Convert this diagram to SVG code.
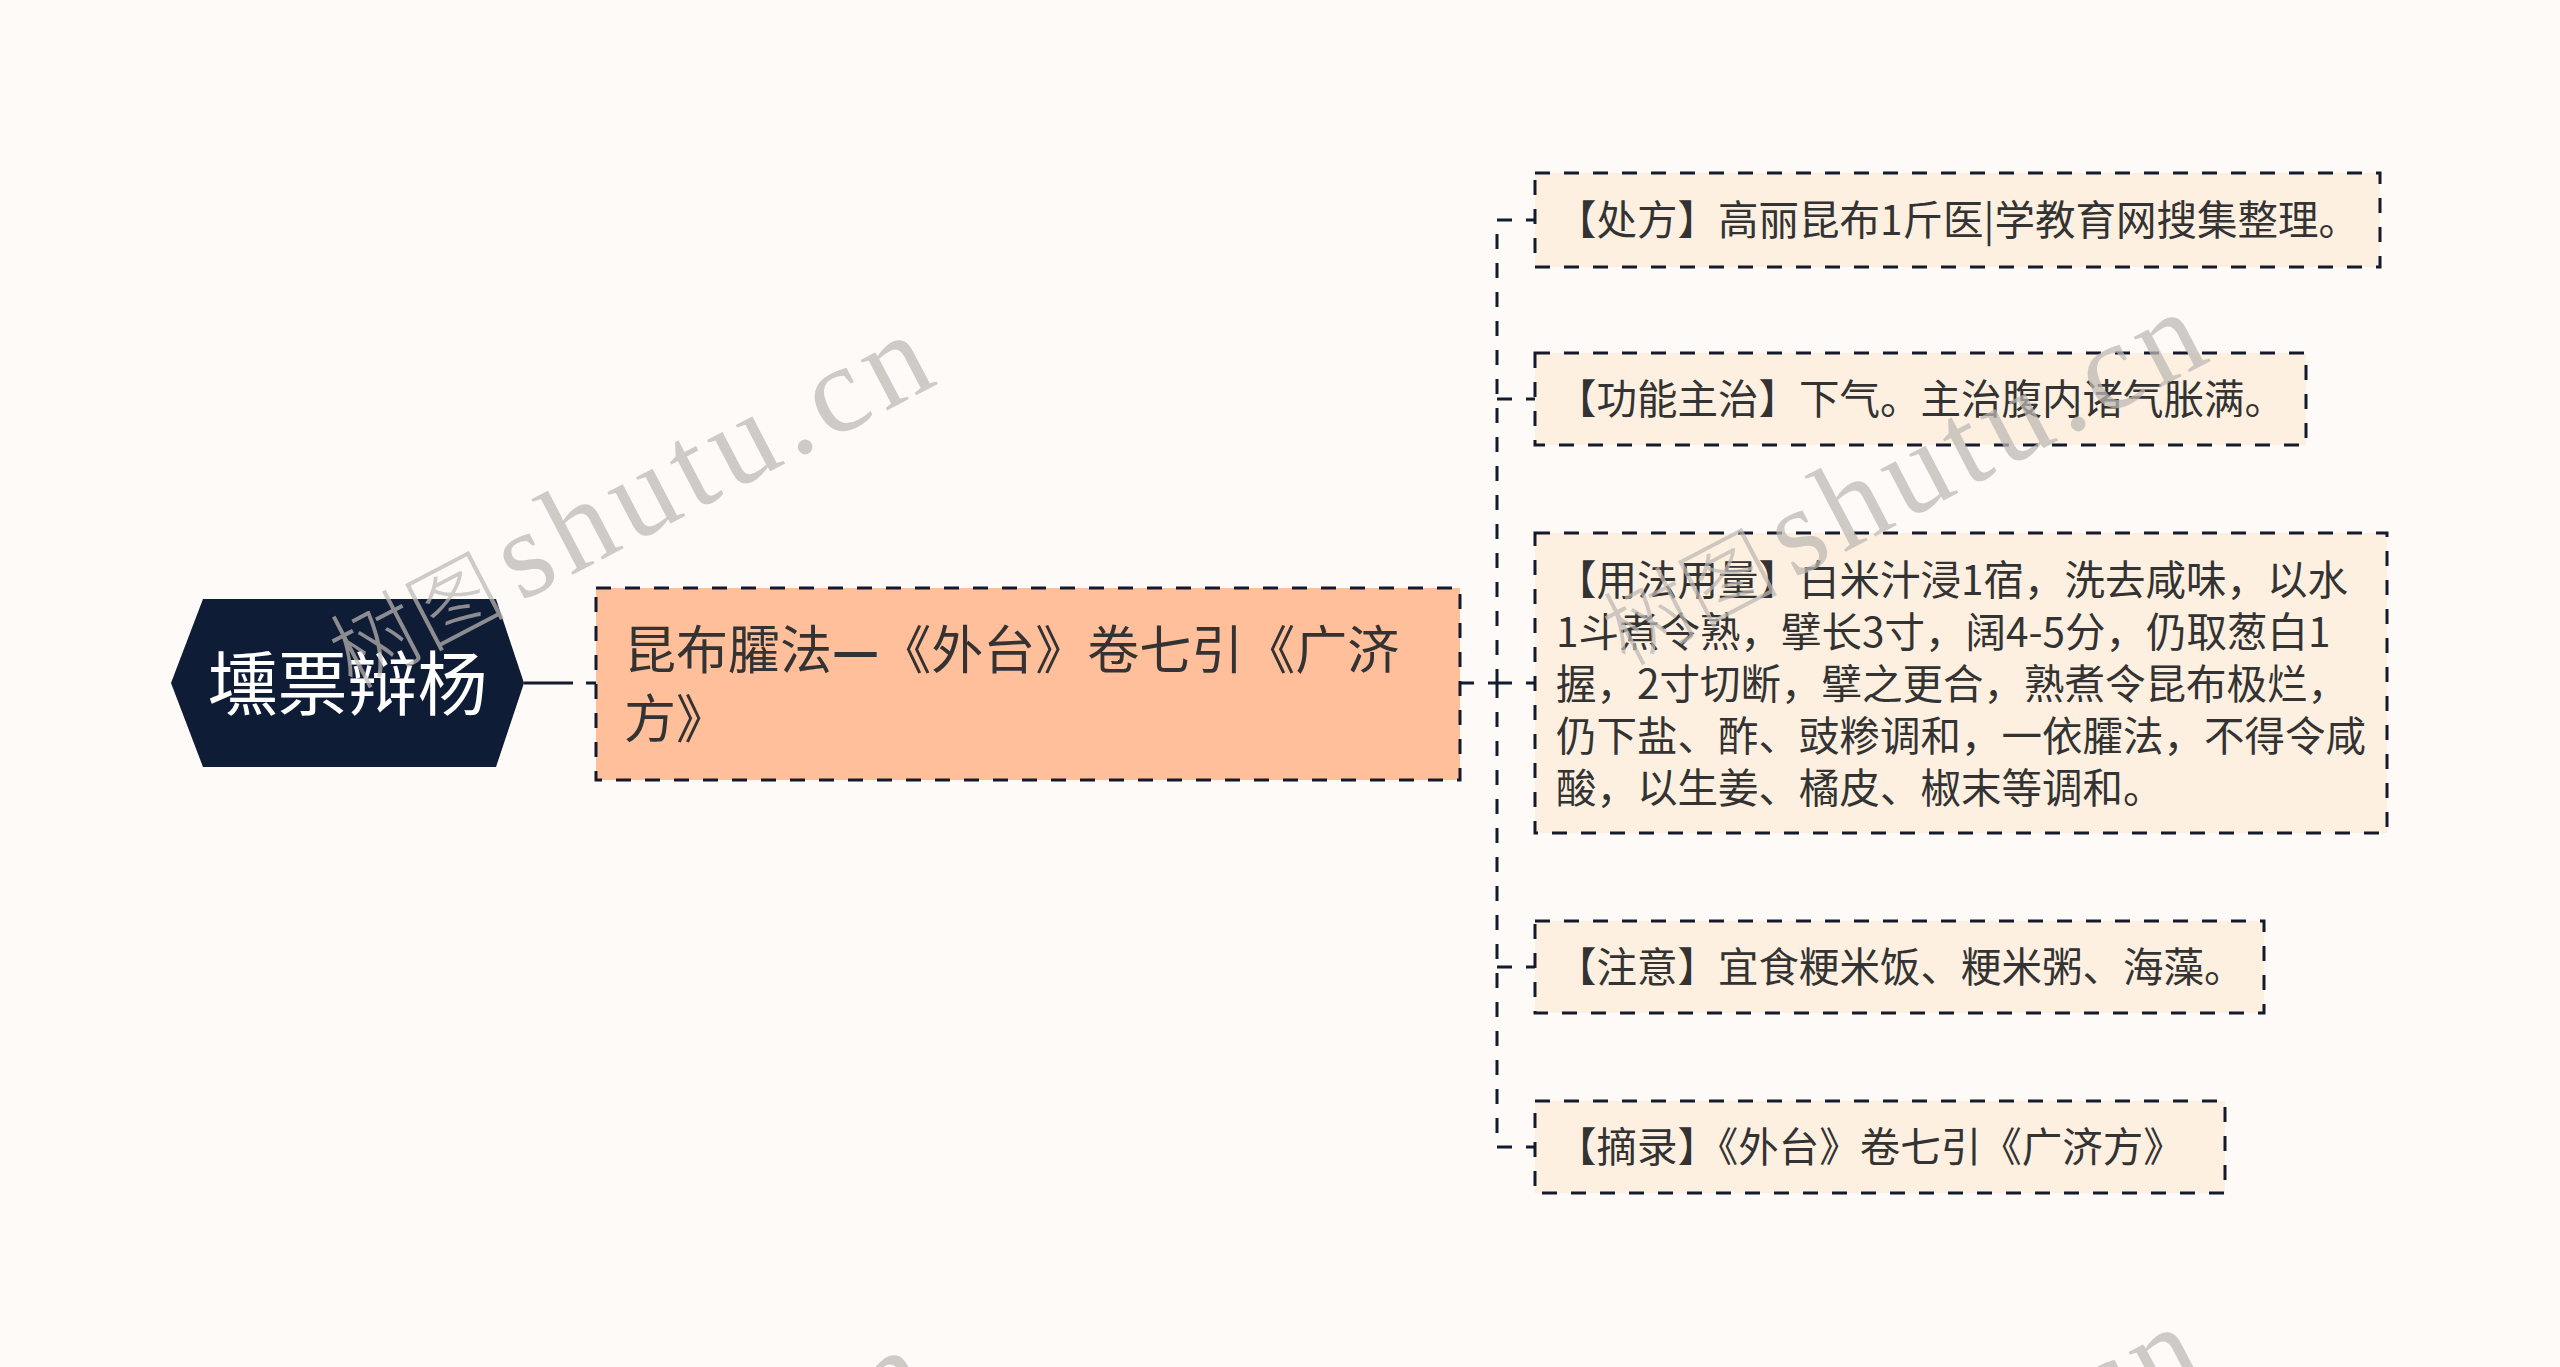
<svg xmlns="http://www.w3.org/2000/svg" width="2560" height="1367" viewBox="0 0 2560 1367">
<style>
.t{font-family:"Noto Sans CJK SC","Noto Sans",sans-serif;fill:#333333}
.box{stroke:#141a2b;stroke-width:3;stroke-dasharray:15 14}
.child{fill:#fdf0e0}
.main{fill:#ffbf9b}
.conn{stroke:#131b2f;stroke-width:3;fill:none}
.trunk{stroke-dasharray:15 14;stroke-dashoffset:15}
.ct{font-size:40.5px}
.wm{font-family:"Liberation Serif","Noto Sans CJK SC",serif;font-size:124px;fill:#bdb8b4;opacity:0.72}
.wmc{font-family:"Noto Sans CJK SC",sans-serif;font-size:88px;font-weight:300}
</style>
<rect x="0" y="0" width="2560" height="1367" fill="#fdfaf8"/>

<g id="connectors">
  <line class="conn" x1="524" y1="683" x2="573" y2="683" stroke-width="3.5"/>
  <line class="conn" x1="586" y1="683" x2="596" y2="683"/>
  <path class="conn" d="M1460 683H1474M1488 683H1512M1526 683H1535"/>
  <path class="conn trunk" d="M1497 220V683"/>
  <path class="conn trunk" d="M1497 1147V683"/>
  <path class="conn" d="M1497 220H1512M1526 220H1535"/>
  <path class="conn" d="M1497 399H1512M1526 399H1535"/>
  <path class="conn" d="M1497 967H1512M1526 967H1535"/>
  <path class="conn" d="M1497 1147H1512M1526 1147H1535"/>
</g>

<g id="root">
  <polygon points="171,683 203,599 496,599 524,683 496,767 203,767" fill="#0e1c36"/>
  <text x="347.5" y="710" text-anchor="middle" font-family="Noto Sans CJK SC, sans-serif" font-size="70" fill="#ffffff">壎票辩杨</text>
</g>

<g id="main">
  <rect class="box main" x="596" y="588" width="864" height="192"/>
  <text class="t" font-size="52" x="624" y="669">昆布臛法<tspan font-weight="700">—</tspan>《外台》卷七引《广济</text>
  <text class="t" font-size="52" x="624" y="738">方》</text>
</g>

<g id="child1">
  <rect class="box child" x="1535" y="173" width="845" height="94"/>
  <text class="t ct" x="1556" y="235">【处方】高丽昆布1斤医|学教育网搜集整理。</text>
</g>
<g id="child2">
  <rect class="box child" x="1535" y="353" width="771" height="92"/>
  <text class="t ct" x="1556" y="414">【功能主治】下气。主治腹内诸气胀满。</text>
</g>
<g id="child3">
  <rect class="box child" x="1535" y="533" width="852" height="300"/>
  <text class="t ct" x="1556" y="595">【用法用量】白米汁浸1宿，洗去咸味，以水</text>
  <text class="t ct" x="1556" y="647">1斗煮令熟，擘长3寸，阔4-5分，仍取葱白1</text>
  <text class="t ct" x="1556" y="699">握，2寸切断，擘之更合，熟煮令昆布极烂，</text>
  <text class="t ct" x="1556" y="751">仍下盐、酢、豉糁调和，一依臛法，不得令咸</text>
  <text class="t ct" x="1556" y="803">酸，以生姜、橘皮、椒末等调和。</text>
</g>
<g id="child4">
  <rect class="box child" x="1535" y="921" width="729" height="92"/>
  <text class="t ct" x="1556" y="982">【注意】宜食粳米饭、粳米粥、海藻。</text>
</g>
<g id="child5">
  <rect class="box child" x="1535" y="1101" width="690" height="92"/>
  <text class="t ct" x="1556" y="1162">【摘录】《外台》卷七引《广济方》</text>
</g>

<g id="watermarks">
  <text class="wm" x="352" y="690" transform="rotate(-27.6 352 690)"><tspan class="wmc">树图</tspan><tspan dx="14" letter-spacing="8">shutu.cn</tspan></text>
  <text class="wm" x="1625" y="667" transform="rotate(-27.6 1625 667)"><tspan class="wmc">树图</tspan><tspan dx="14" letter-spacing="8">shutu.cn</tspan></text>
  <text class="wm" x="347" y="1705" transform="rotate(-27.6 347 1705)"><tspan class="wmc">树图</tspan><tspan dx="14" letter-spacing="8">shutu.cn</tspan></text>
  <text class="wm" x="1620" y="1682" transform="rotate(-27.6 1620 1682)"><tspan class="wmc">树图</tspan><tspan dx="14" letter-spacing="8">shutu.cn</tspan></text>
</g>
</svg>
